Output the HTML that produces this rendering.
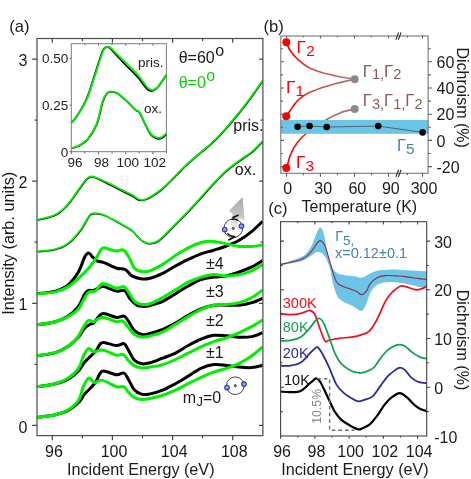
<!DOCTYPE html>
<html><head><meta charset="utf-8"><title>fig</title>
<style>html,body{margin:0;padding:0;background:#fff;}body{width:471px;height:479px;overflow:hidden;font-family:"Liberation Sans",sans-serif;}</style></head>
<body>
<svg width="471" height="479" viewBox="0 0 471 479" style="display:block;will-change:transform;font-family:'Liberation Sans',sans-serif;">
<rect width="471" height="479" fill="#fff"/>
<defs>
<clipPath id="ca"><rect x="36.4" y="38.5" width="226.5" height="397.1"/></clipPath>
<clipPath id="ci"><rect x="71.3" y="43.7" width="95.1" height="108"/></clipPath>
<clipPath id="cc"><rect x="280.6" y="221.7" width="146.1" height="214.3"/></clipPath>
<linearGradient id="gr2" gradientUnits="userSpaceOnUse" x1="286" y1="0" x2="355" y2="0"><stop offset="0" stop-color="#f00000"/><stop offset="0.35" stop-color="#d84a3c"/><stop offset="1" stop-color="#9a8078"/></linearGradient>
<linearGradient id="garrow" gradientUnits="userSpaceOnUse" x1="241.7" y1="197" x2="233" y2="229"><stop offset="0" stop-color="#a8a8a8"/><stop offset="0.5" stop-color="#c2c2c2"/><stop offset="0.8" stop-color="#dcdcdc"/><stop offset="1" stop-color="#f2f2f2" stop-opacity="0.7"/></linearGradient>
</defs>
<g clip-path="url(#ca)" fill="none" stroke-linejoin="round" stroke-linecap="butt">
<path d="M37.6 417.3C40.6 416.9 50.4 416.0 55.5 414.8C60.6 413.6 64.4 412.4 68.2 410.4C72.0 408.4 75.6 405.6 78.4 402.8C81.2 400.1 82.7 396.4 84.8 393.9C86.9 391.3 89.2 389.6 91.1 387.5C93.0 385.4 94.7 383.4 96.2 381.1C97.7 378.8 98.7 375.2 100.0 373.5C101.3 371.8 101.1 370.8 103.9 371.0C106.7 371.2 113.2 374.5 116.6 374.8C119.9 375.1 122.0 372.1 124.0 373.0C126.0 373.9 126.9 377.0 128.7 379.9C130.4 382.8 132.3 387.7 134.5 390.1C136.7 392.5 139.5 393.8 142.1 394.4C144.7 395.0 146.6 394.6 150.0 393.9C153.4 393.2 158.4 391.8 162.7 390.1C166.9 388.4 171.2 386.0 175.5 383.7C179.8 381.4 183.9 378.7 188.2 376.1C192.4 373.6 196.8 370.3 201.0 368.4C205.2 366.5 209.5 365.1 213.7 364.6C217.9 364.1 222.2 365.0 226.4 365.4C230.7 365.8 234.9 366.7 239.2 367.1C243.4 367.5 248.0 367.9 251.9 367.6C255.8 367.3 260.8 365.8 262.6 365.4" stroke="#000" stroke-width="3"/>
<path d="M37.6 417.3C40.6 416.9 50.4 416.1 55.5 414.8C60.6 413.5 64.4 412.1 68.2 409.7C72.0 407.3 75.9 404.2 78.4 400.3C81.0 396.4 81.8 389.9 83.5 386.2C85.2 382.5 86.8 378.7 88.6 378.1C90.4 377.5 91.9 382.0 94.2 382.4C96.5 382.8 98.9 379.7 102.6 380.4C106.3 381.1 113.0 385.7 116.6 386.8C120.2 387.9 122.0 385.8 124.0 386.8C126.0 387.8 126.9 390.8 128.7 392.6C130.4 394.4 132.3 396.6 134.5 397.7C136.7 398.8 139.5 399.4 142.1 399.5C144.7 399.6 146.6 399.2 150.0 398.5C153.4 397.8 158.4 396.6 162.7 395.2C166.9 393.8 171.2 392.0 175.5 390.1C179.8 388.2 183.9 385.8 188.2 383.7C192.4 381.6 196.8 379.2 201.0 377.3C205.2 375.4 209.5 373.7 213.7 372.2C217.9 370.7 222.2 369.9 226.4 368.4C230.7 366.9 234.9 365.4 239.2 363.3C243.4 361.2 248.0 358.4 251.9 355.7C255.8 352.9 260.8 348.3 262.6 346.8" stroke="#00f000" stroke-width="3"/>
<path d="M37.6 386.8C40.6 386.3 50.4 385.0 55.5 383.7C60.6 382.4 64.4 381.2 68.2 379.1C72.0 377.0 75.6 373.9 78.4 371.0C81.2 368.1 82.7 364.6 84.8 362.0C86.9 359.4 89.2 357.6 91.1 355.7C93.0 353.8 94.7 352.5 96.2 350.6C97.7 348.7 98.7 345.6 100.0 344.2C101.3 342.8 101.1 342.2 103.9 342.4C106.7 342.6 113.2 345.3 116.6 345.5C119.9 345.7 122.0 342.8 124.0 343.7C126.0 344.6 126.9 347.8 128.7 350.6C130.4 353.4 132.3 358.1 134.5 360.3C136.7 362.5 139.5 363.4 142.1 363.8C144.7 364.2 146.6 363.7 150.0 362.8C153.4 361.9 158.4 359.8 162.7 358.2C166.9 356.6 171.2 355.2 175.5 353.1C179.8 351.0 183.9 347.8 188.2 345.5C192.4 343.2 196.8 340.8 201.0 339.1C205.2 337.4 209.5 335.9 213.7 335.3C217.9 334.8 222.2 335.5 226.4 335.8C230.7 336.1 234.9 337.2 239.2 337.3C243.4 337.4 248.0 337.4 251.9 336.6C255.8 335.8 260.8 333.4 262.6 332.7" stroke="#000" stroke-width="3"/>
<path d="M37.6 386.8C40.6 386.3 50.4 385.1 55.5 383.7C60.6 382.2 64.4 380.7 68.2 378.1C72.0 375.6 75.9 372.1 78.4 368.4C81.0 364.7 81.8 359.0 83.5 355.7C85.2 352.4 86.9 349.1 88.6 348.5C90.3 347.9 91.4 351.5 93.7 351.8C96.0 352.1 98.8 349.5 102.6 350.1C106.4 350.7 113.2 354.5 116.6 355.2C120.0 355.9 121.2 353.5 123.2 354.4C125.2 355.3 126.8 358.9 128.7 360.8C130.6 362.7 132.3 364.7 134.5 365.9C136.7 367.1 139.5 367.7 142.1 367.9C144.7 368.1 146.6 367.7 150.0 367.1C153.4 366.6 158.4 365.9 162.7 364.6C166.9 363.3 171.2 361.4 175.5 359.5C179.8 357.6 183.9 355.2 188.2 353.1C192.4 351.0 196.8 348.7 201.0 346.8C205.2 344.9 209.5 343.2 213.7 341.7C217.9 340.2 222.2 339.3 226.4 337.8C230.7 336.3 234.9 334.6 239.2 332.7C243.4 330.8 248.0 328.5 251.9 326.4C255.8 324.3 260.8 321.1 262.6 320.0" stroke="#00f000" stroke-width="3"/>
<path d="M37.6 355.7C40.6 355.2 50.4 354.2 55.5 352.6C60.6 351.0 64.4 348.9 68.2 346.3C72.0 343.7 75.6 340.0 78.4 337.0C81.2 334.0 82.9 330.2 84.8 328.1C86.7 326.0 88.4 325.2 89.9 324.3C91.4 323.4 92.2 324.3 93.7 323.0C95.2 321.7 97.1 318.2 98.8 316.6C100.5 315.0 100.9 313.5 103.9 313.6C106.9 313.7 113.2 317.0 116.6 317.4C119.9 317.8 122.0 315.4 124.0 316.1C126.0 316.8 126.9 319.3 128.7 321.7C130.4 324.1 132.3 328.5 134.5 330.6C136.7 332.7 139.5 334.0 142.1 334.5C144.7 335.0 146.6 334.4 150.0 333.5C153.4 332.6 158.4 331.1 162.7 329.4C166.9 327.6 171.2 325.3 175.5 323.0C179.8 320.7 183.9 317.7 188.2 315.4C192.4 313.1 196.8 310.7 201.0 309.0C205.2 307.3 209.5 305.8 213.7 305.2C217.9 304.6 222.2 305.2 226.4 305.2C230.7 305.2 234.9 305.6 239.2 305.2C243.4 304.8 248.0 303.8 251.9 302.6C255.8 301.5 260.8 299.0 262.6 298.3" stroke="#000" stroke-width="3"/>
<path d="M37.6 355.7C40.6 355.2 51.2 353.6 55.5 352.6C59.8 351.6 59.7 351.7 63.1 349.5C66.5 347.3 72.5 343.4 75.9 339.6C79.3 335.8 81.4 330.0 83.5 326.8C85.6 323.6 86.9 321.2 88.6 320.4C90.3 319.5 92.0 322.0 93.7 321.7C95.4 321.4 97.1 319.4 98.8 318.7C100.5 318.0 100.9 316.9 103.9 317.4C106.9 317.9 113.5 321.1 116.6 321.7C119.7 322.3 120.7 319.9 122.7 321.0C124.7 322.1 126.7 325.9 128.7 328.1C130.7 330.4 132.3 333.0 134.5 334.5C136.7 336.0 139.5 336.8 142.1 337.0C144.7 337.2 146.6 336.9 150.0 336.0C153.4 335.1 158.4 333.8 162.7 331.9C166.9 329.9 171.2 326.9 175.5 324.3C179.8 321.8 183.9 319.1 188.2 316.6C192.4 314.1 196.8 311.4 201.0 309.5C205.2 307.6 209.5 306.1 213.7 305.2C217.9 304.3 222.2 304.8 226.4 304.4C230.7 304.0 234.9 303.8 239.2 302.6C243.4 301.5 248.0 299.6 251.9 297.5C255.8 295.4 260.8 291.2 262.6 289.9" stroke="#00f000" stroke-width="3"/>
<path d="M37.6 324.8C40.6 324.3 50.4 323.1 55.5 321.7C60.6 320.2 64.4 318.7 68.2 316.1C72.0 313.6 75.6 310.1 78.4 306.4C81.2 302.7 83.1 296.4 84.8 293.7C86.5 291.0 87.1 290.9 88.6 290.4C90.1 289.8 91.8 290.9 93.7 290.4C95.6 289.9 98.3 287.9 100.0 287.3C101.7 286.7 101.1 286.0 103.9 286.6C106.7 287.2 113.1 290.4 116.6 291.1C120.1 291.8 122.6 289.3 124.8 290.6C127.0 291.9 128.0 296.4 130.0 298.8C132.0 301.2 134.8 303.9 137.0 305.2C139.2 306.5 141.2 306.3 143.4 306.4C145.6 306.4 146.8 306.4 150.0 305.5C153.2 304.6 158.4 303.3 162.7 301.3C166.9 299.3 171.2 296.2 175.5 293.7C179.8 291.1 183.9 288.3 188.2 286.0C192.4 283.7 196.8 281.2 201.0 279.7C205.2 278.2 209.5 277.7 213.7 277.1C217.9 276.5 222.2 276.8 226.4 275.9C230.7 275.0 234.9 273.5 239.2 272.0C243.4 270.5 248.0 268.8 251.9 266.9C255.8 265.0 260.8 261.7 262.6 260.6" stroke="#000" stroke-width="3"/>
<path d="M37.6 324.8C40.6 324.3 50.4 323.1 55.5 321.7C60.6 320.3 64.4 318.7 68.2 316.6C72.0 314.5 75.6 312.2 78.4 309.0C81.2 305.8 83.0 300.4 84.8 297.5C86.6 294.6 87.4 293.0 89.1 291.9C90.8 290.8 93.2 292.2 95.0 291.1C96.8 290.0 98.5 286.8 100.0 285.5C101.5 284.2 101.1 283.1 103.9 283.5C106.7 283.9 113.2 287.6 116.6 288.1C119.9 288.6 122.0 285.9 124.0 286.6C126.0 287.3 126.9 289.9 128.7 292.4C130.4 294.8 132.3 299.3 134.5 301.3C136.7 303.3 139.5 304.0 142.1 304.4C144.7 304.8 146.6 304.8 150.0 303.7C153.4 302.6 158.4 299.8 162.7 297.5C166.9 295.2 171.2 292.4 175.5 289.9C179.8 287.3 183.9 284.3 188.2 282.2C192.4 280.1 196.8 278.4 201.0 277.1C205.2 275.8 209.5 274.8 213.7 274.6C217.9 274.4 222.2 275.9 226.4 275.9C230.7 275.9 234.9 275.5 239.2 274.6C243.4 273.8 248.0 272.5 251.9 270.8C255.8 269.1 260.8 265.5 262.6 264.4" stroke="#00f000" stroke-width="3"/>
<path d="M37.6 293.7C40.6 293.3 50.4 292.6 55.5 291.1C60.6 289.6 64.4 288.0 68.2 284.8C72.0 281.6 75.6 276.7 78.4 272.0C81.2 267.3 83.1 260.0 84.8 256.8C86.5 253.6 87.3 252.9 88.6 252.9C89.9 252.9 90.9 255.4 92.4 256.8C93.9 258.2 95.6 260.1 97.5 261.1C99.4 262.1 100.7 261.4 103.9 262.6C107.1 263.8 113.0 267.1 116.6 268.2C120.2 269.3 122.8 268.2 125.3 269.5C127.8 270.8 129.1 274.3 131.9 275.9C134.7 277.5 139.1 278.5 142.1 278.9C145.1 279.3 146.6 279.1 150.0 278.2C153.4 277.3 158.4 275.3 162.7 273.3C166.9 271.3 171.2 268.3 175.5 266.0C179.8 263.7 183.9 261.4 188.2 259.4C192.4 257.4 196.8 255.3 201.0 253.8C205.2 252.3 209.5 251.5 213.7 250.2C217.9 248.9 222.2 247.7 226.4 246.0C230.7 244.3 234.9 242.7 239.2 240.3C243.4 237.9 248.0 234.6 251.9 231.4C255.8 228.2 260.8 223.0 262.6 221.3" stroke="#000" stroke-width="3"/>
<path d="M37.6 293.7C40.6 293.4 50.4 293.1 55.5 291.9C60.6 290.7 64.4 288.9 68.2 286.6C72.0 284.4 75.0 281.5 78.4 278.4C81.8 275.3 85.6 271.6 88.6 268.2C91.6 264.8 94.1 261.2 96.2 258.0C98.3 254.8 99.9 250.8 101.3 249.1C102.7 247.4 103.0 247.7 104.4 247.8C105.9 247.9 108.0 248.9 110.0 249.5C112.0 250.1 114.4 251.0 116.6 251.1C118.8 251.2 121.2 248.9 123.2 249.9C125.2 250.9 126.8 253.8 128.7 256.8C130.6 259.9 132.3 265.8 134.5 268.2C136.7 270.6 139.5 271.1 142.1 271.5C144.7 271.9 146.6 272.0 150.0 270.8C153.4 269.6 158.4 266.9 162.7 264.4C166.9 261.8 171.2 258.3 175.5 255.5C179.8 252.7 183.9 250.0 188.2 247.8C192.4 245.6 196.8 243.6 201.0 242.5C205.2 241.4 209.5 241.2 213.7 241.4C217.9 241.6 222.2 243.1 226.4 243.9C230.7 244.7 234.9 246.0 239.2 246.4C243.4 246.8 248.0 246.6 251.9 246.4C255.8 246.2 260.8 245.2 262.6 245.0" stroke="#00f000" stroke-width="3"/>
<path d="M37.9 251.8C40.9 251.4 50.7 250.8 55.8 249.5C60.9 248.2 64.2 247.0 68.5 243.7C72.8 240.4 77.9 234.2 81.3 229.7C84.7 225.2 87.1 219.5 88.9 216.9C90.6 214.3 90.7 214.9 91.8 214.3C92.9 213.8 93.9 213.6 95.3 213.6C96.7 213.6 98.4 213.8 100.3 214.3C102.2 214.8 103.5 214.9 106.7 216.4C109.9 217.9 115.2 220.9 119.5 223.3C123.8 225.7 129.1 228.5 132.2 230.9C135.3 233.3 136.6 235.8 138.3 237.5C140.0 239.2 140.9 240.1 142.4 241.1C143.9 242.1 146.0 243.1 147.3 243.5C148.6 243.9 149.1 243.9 150.3 243.8C151.5 243.7 152.6 243.7 154.3 243.0C156.0 242.3 156.9 242.8 160.5 239.7C164.1 236.6 171.1 229.1 175.8 224.4C180.5 219.7 184.2 216.1 188.5 211.6C192.8 207.1 197.1 202.3 201.3 197.6C205.6 192.9 209.8 188.0 214.0 183.6C218.2 179.2 222.5 174.7 226.7 170.9C231.0 167.2 235.2 164.2 239.5 161.1C243.8 158.0 248.3 155.5 252.2 152.2C256.1 148.9 261.1 143.3 262.9 141.5" stroke="#000" stroke-width="1.6"/>
<path d="M37.6 251.3C40.6 250.9 50.4 250.3 55.5 249.0C60.6 247.7 64.0 246.5 68.2 243.2C72.5 239.9 77.6 233.7 81.0 229.2C84.4 224.7 86.8 219.0 88.6 216.4C90.3 213.8 90.4 214.4 91.5 213.8C92.6 213.2 93.6 213.1 95.0 213.1C96.4 213.1 98.1 213.3 100.0 213.8C101.9 214.3 103.2 214.4 106.4 215.9C109.6 217.4 115.0 220.4 119.2 222.8C123.5 225.2 128.8 228.0 131.9 230.4C135.0 232.8 136.3 235.3 138.0 237.0C139.7 238.7 140.6 239.6 142.1 240.6C143.6 241.6 145.7 242.6 147.0 243.0C148.3 243.4 148.8 243.4 150.0 243.3C151.2 243.2 152.3 243.2 154.0 242.5C155.7 241.8 156.6 242.3 160.2 239.2C163.8 236.1 170.8 228.6 175.5 223.9C180.2 219.2 183.9 215.6 188.2 211.1C192.4 206.6 196.8 201.8 201.0 197.1C205.2 192.4 209.5 187.5 213.7 183.1C217.9 178.7 222.2 174.2 226.4 170.4C230.7 166.7 234.9 163.7 239.2 160.6C243.4 157.5 248.0 155.0 251.9 151.7C255.8 148.4 260.8 142.8 262.6 141.0" stroke="#00f000" stroke-width="1.7"/>
<path d="M37.9 220.2C40.9 219.3 50.7 217.8 55.8 215.1C60.9 212.4 64.2 209.0 68.5 204.2C72.8 199.4 78.2 190.6 81.3 186.4C84.4 182.2 85.6 180.6 87.3 179.0C89.0 177.4 89.9 177.1 91.4 176.9C92.9 176.7 93.8 176.9 96.3 178.0C98.8 179.1 102.8 181.4 106.7 183.3C110.6 185.2 115.2 187.6 119.5 189.7C123.8 191.8 129.2 194.4 132.2 196.1C135.3 197.8 136.2 199.1 137.8 199.8C139.4 200.5 140.3 200.5 141.6 200.4C142.9 200.3 144.4 200.0 145.8 199.5C147.2 199.0 147.4 199.4 150.3 197.6C153.2 195.8 158.8 192.3 163.0 188.7C167.2 185.1 171.6 180.2 175.8 176.0C180.1 171.8 184.2 167.4 188.5 163.5C192.8 159.6 197.1 156.2 201.3 152.5C205.6 148.8 209.8 145.6 214.0 141.5C218.2 137.4 222.5 132.8 226.7 128.0C231.0 123.2 235.2 118.0 239.5 112.7C243.8 107.4 248.3 101.5 252.2 96.2C256.1 90.9 261.1 83.5 262.9 80.9" stroke="#000" stroke-width="1.6"/>
<path d="M37.6 219.7C40.6 218.8 50.4 217.3 55.5 214.6C60.6 211.9 64.0 208.5 68.2 203.7C72.5 198.9 77.9 190.1 81.0 185.9C84.1 181.7 85.3 180.1 87.0 178.5C88.7 176.9 89.6 176.6 91.1 176.4C92.6 176.2 93.5 176.6 96.0 177.5C98.5 178.4 102.5 180.2 106.4 182.0C110.3 183.8 115.0 186.3 119.2 188.4C123.5 190.5 128.8 193.1 131.9 194.8C135.0 196.5 135.9 197.7 137.5 198.5C139.1 199.3 140.0 199.8 141.3 199.9C142.6 200.0 144.1 199.5 145.5 199.0C146.9 198.5 147.1 198.9 150.0 197.1C152.9 195.3 158.4 191.8 162.7 188.2C166.9 184.6 171.2 179.7 175.5 175.5C179.8 171.3 183.9 166.9 188.2 163.0C192.4 159.1 196.8 155.7 201.0 152.0C205.2 148.3 209.5 145.1 213.7 141.0C217.9 136.9 222.2 132.3 226.4 127.5C230.7 122.7 234.9 117.5 239.2 112.2C243.4 106.9 248.0 101.0 251.9 95.7C255.8 90.4 260.8 83.0 262.6 80.4" stroke="#00f000" stroke-width="1.7"/>
</g>
<rect x="71.3" y="43.7" width="95.1" height="108" fill="#fff" stroke="#7a7a7a" stroke-width="1"/>
<g clip-path="url(#ci)" fill="none" stroke-linejoin="round">
<path d="M71.8 148.3C72.9 147.9 76.0 147.5 78.6 146.0C81.2 144.5 84.6 143.1 87.6 139.5C90.6 135.9 94.3 130.5 96.8 124.2C99.3 117.9 101.0 107.1 102.7 101.9C104.4 96.8 105.7 95.0 107.1 93.3C108.5 91.6 109.6 91.8 111.3 91.8C113.0 91.8 114.8 91.8 117.3 93.3C119.8 94.8 123.2 98.0 126.2 100.7C129.2 103.4 132.9 107.6 135.1 109.6C137.3 111.6 137.9 110.3 139.6 112.8C141.3 115.3 143.5 121.0 145.5 124.8C147.5 128.6 149.5 133.1 151.5 135.4C153.5 137.7 155.7 138.2 157.4 138.6C159.1 139.0 160.4 138.7 161.9 138.0C163.4 137.3 165.6 134.8 166.3 134.2" stroke="#000" stroke-width="1.8"/>
<path d="M71.8 148.0C72.9 147.6 76.0 147.1 78.6 145.6C81.2 144.1 84.6 142.6 87.6 139.0C90.6 135.4 94.0 130.4 96.5 124.2C99.0 118.0 100.7 107.1 102.4 101.9C104.1 96.7 105.4 94.7 106.9 93.0C108.4 91.3 109.6 91.5 111.3 91.5C113.0 91.5 114.8 91.5 117.3 93.0C119.8 94.5 123.2 97.7 126.2 100.4C129.2 103.1 132.9 107.3 135.1 109.3C137.3 111.3 137.9 109.8 139.6 112.3C141.3 114.8 143.5 120.5 145.5 124.2C147.5 127.9 149.5 132.4 151.5 134.6C153.5 136.8 155.7 137.2 157.4 137.6C159.1 138.0 160.4 137.8 161.9 137.0C163.4 136.2 165.6 133.8 166.3 133.1" stroke="#00f000" stroke-width="1.8"/>
<path d="M71.8 122.7C72.9 121.2 75.8 118.0 78.4 113.8C81.0 109.6 84.3 104.6 87.2 97.4C90.1 90.2 93.5 78.1 96.0 70.7C98.5 63.3 100.5 56.5 101.9 52.8C103.3 49.0 103.7 49.2 104.6 48.2C105.5 47.2 106.5 47.0 107.5 47.0C108.5 47.0 109.2 47.3 110.3 48.2C111.4 49.1 111.3 49.6 113.9 52.4C116.5 55.2 121.8 60.9 125.7 65.0C129.7 69.1 134.1 73.1 137.6 77.0C141.1 80.9 144.3 86.2 146.5 88.5C148.7 90.8 149.6 90.8 151.0 91.0C152.4 91.2 153.7 90.5 155.0 89.6C156.3 88.7 157.0 88.1 158.9 85.7C160.8 83.3 165.1 76.9 166.3 75.1" stroke="#000" stroke-width="1.8"/>
<path d="M71.8 122.7C72.9 121.2 76.0 118.0 78.6 113.8C81.2 109.6 84.6 104.6 87.6 97.4C90.6 90.2 94.0 78.1 96.5 70.7C99.0 63.3 101.0 56.5 102.4 52.8C103.8 49.0 104.1 49.2 105.0 48.2C105.9 47.2 106.9 47.0 107.8 46.9C108.7 46.8 109.4 47.1 110.5 47.8C111.6 48.5 111.7 48.7 114.3 51.3C116.9 53.9 122.2 59.2 126.2 63.2C130.2 67.2 134.6 71.1 138.1 75.1C141.6 79.1 144.8 84.5 147.0 87.0C149.2 89.5 150.2 89.7 151.5 90.0C152.8 90.3 153.8 89.8 155.0 89.0C156.2 88.2 157.0 87.8 158.9 85.5C160.8 83.2 165.1 76.8 166.3 75.1" stroke="#00f000" stroke-width="1.8"/>
</g>
<path d="M71.3 151.7v2.6M84.9 151.7v1.8M84.9 43.7v1.5M98.5 151.7v2.6M98.5 43.7v2.0M112.1 151.7v1.8M112.1 43.7v1.5M125.7 151.7v2.6M125.7 43.7v2.0M139.3 151.7v1.8M139.3 43.7v1.5M152.9 151.7v2.6M152.9 43.7v2.0M166.5 151.7v1.8M71.3 58.3h-1.8M71.3 105.0h-1.8M71.3 151.7h-1.8" stroke="#6e6e6e" stroke-width="1" fill="none"/>
<g font-size="13.5" fill="#222">
<text x="74.9" y="167" text-anchor="middle">96</text>
<text x="101.5" y="167" text-anchor="middle">98</text>
<text x="127.8" y="167" text-anchor="middle">100</text>
<text x="154.8" y="167" text-anchor="middle">102</text>
<text x="68.3" y="63.1" text-anchor="end">0.50</text>
<text x="68.3" y="110.1" text-anchor="end">0.25</text>
<text x="68.3" y="156.6" text-anchor="end">0</text>
<text x="138" y="67.1">pris.</text>
<text x="144" y="112.9">ox.</text>
</g>
<rect x="37" y="38.5" width="225.9" height="397.1" fill="none" stroke="#505050" stroke-width="1.25"/>
<path d="M52.3 435.6v4.6M52.3 38.5v4.3M82.4 435.6v2.6M82.4 38.5v2.4M112.4 435.6v4.6M112.4 38.5v4.3M142.5 435.6v2.6M142.5 38.5v2.4M172.6 435.6v4.6M172.6 38.5v4.3M202.6 435.6v2.6M202.6 38.5v2.4M232.7 435.6v4.6M232.7 38.5v4.3M37 425.4h-4.8M262.9 425.4h-3.8M37 364.3h-2.4M262.9 364.3h-2.4M37 303.3h-4.8M262.9 303.3h-3.8M37 242.2h-2.4M262.9 242.2h-2.4M37 181.2h-4.8M262.9 181.2h-3.8M37 120.1h-2.4M262.9 120.1h-2.4M37 59.1h-4.8M262.9 59.1h-3.8" stroke="#444" stroke-width="1.2" fill="none"/>
<g font-size="16" fill="#1a1a1a">
<text x="53.9" y="456.8" text-anchor="middle">96</text>
<text x="114.0" y="456.8" text-anchor="middle">100</text>
<text x="174.2" y="456.8" text-anchor="middle">104</text>
<text x="234.3" y="456.8" text-anchor="middle">108</text>
<text x="27.4" y="432.5" text-anchor="end">0</text>
<text x="27.4" y="310.4" text-anchor="end">1</text>
<text x="27.4" y="188.3" text-anchor="end">2</text>
<text x="27.4" y="66.2" text-anchor="end">3</text>
<text x="67" y="474.5" font-size="16.2">Incident Energy (eV)</text>
<text transform="translate(14.1 243.2) rotate(-90)" text-anchor="middle" font-size="16.3">Intensity (arb. units)</text>
<text x="9.3" y="31.6" font-size="16.6">(a)</text>
<text x="233.3" y="131.2">pris.</text>
<text x="234.8" y="175.2">ox.</text>
<text x="206" y="269.1">±4</text>
<text x="206" y="296.8">±3</text>
<text x="206" y="325.5">±2</text>
<text x="206" y="357.7">±1</text>
<text x="182.8" y="402.6">m<tspan font-size="13.6" dy="3.2">J</tspan><tspan dy="-3.2">=0</tspan></text>
<text x="178.7" y="63">θ=60<tspan dy="-7.2" dx="0.5">o</tspan></text>
<text x="178.7" y="87.8" fill="#10cc10">θ=0<tspan dy="-7.2" dx="0.5">o</tspan></text>
</g>
<g>
<circle cx="235.3" cy="385.7" r="8.8" fill="#fff" stroke="#222" stroke-width="0.85"/>
<circle cx="235.3" cy="385.7" r="1.1" fill="#aaa" stroke="#222" stroke-width="0.85"/>
<circle cx="227.0" cy="387.5" r="2.3" fill="#9ca0d2" stroke="#2a3cc4" stroke-width="1.15"/>
<circle cx="244.0" cy="384.1" r="2.3" fill="#9ca0d2" stroke="#2a3cc4" stroke-width="1.15"/>
</g>
<g>
<path d="M242.6 196.9 L229 210.8 L232.6 214 L230.4 226.5 L237 228.5 L239.3 218 L244.6 220.5 Z" fill="url(#garrow)"/>
<circle cx="233.3" cy="228.2" r="9.3" fill="none" stroke="#222" stroke-width="0.85"/>
<path d="M232.4 217.8 L238.6 215" stroke="#111" stroke-width="1.7" fill="none"/>
<path d="M231.5 219.3 Q234.8 218.6 237.8 220.4" stroke="#111" stroke-width="1.3" fill="none"/>
<path d="M228.3 240.2 L235.2 236.4" stroke="#111" stroke-width="1.7" fill="none"/>
<path d="M227.4 233.4 Q230.5 236.6 234.6 236.5" stroke="#111" stroke-width="1.3" fill="none"/>
<circle cx="233.3" cy="228.4" r="1.1" fill="#aaa" stroke="#222" stroke-width="0.85"/>
<circle cx="224.7" cy="229.5" r="2.3" fill="#9ca0d2" stroke="#2a3cc4" stroke-width="1.15"/>
<circle cx="241.5" cy="226.1" r="2.3" fill="#9ca0d2" stroke="#2a3cc4" stroke-width="1.15"/>
</g>
<g fill="none" stroke-width="1.7" stroke="url(#gr2)">
<path d="M286.3 42.2C287.0 43.7 288.5 48.1 290.5 51.0C292.5 53.9 295.1 56.9 298.1 59.6C301.1 62.3 304.5 65.1 308.3 67.2C312.1 69.3 316.3 70.8 321.0 72.3C325.7 73.8 330.7 74.8 336.3 76.0C341.9 77.2 351.5 78.8 354.5 79.3"/>
<path d="M286.3 116.2C287.0 115.2 288.5 112.7 290.5 110.0C292.5 107.3 295.1 103.0 298.1 100.2C301.1 97.4 304.5 95.0 308.3 93.0C312.1 91.0 316.3 89.6 321.0 88.0C325.7 86.4 330.7 85.0 336.3 83.5C341.9 82.0 351.5 80.0 354.5 79.3"/>
<path d="M286.7 168.3C287.3 166.1 288.8 159.0 290.5 154.8C292.2 150.6 294.1 146.9 296.8 143.3C299.5 139.7 301.7 137.0 306.6 133.1C311.5 129.2 320.4 123.3 326.0 119.9C331.6 116.5 335.7 114.5 340.5 112.7C345.3 110.9 352.3 109.5 354.7 108.9"/>
</g>
<rect x="280.8" y="120" width="147.3" height="13.8" fill="#6cc5e6"/>
<path d="M297.6 126.7L309.6 126L326.7 127L378.2 126.1L422.6 132.4" fill="none" stroke="#333" stroke-width="0.65"/>
<circle cx="297.6" cy="126.7" r="3.3" fill="#000"/>
<circle cx="309.6" cy="126.0" r="3.3" fill="#000"/>
<circle cx="326.7" cy="127.0" r="3.3" fill="#000"/>
<circle cx="378.2" cy="126.1" r="3.3" fill="#000"/>
<circle cx="422.6" cy="132.4" r="3.3" fill="#000"/>
<circle cx="286.3" cy="42.2" r="4" fill="#fa0008"/>
<circle cx="286.3" cy="116.2" r="4" fill="#fa0008"/>
<circle cx="286.3" cy="168.0" r="4" fill="#fa0008"/>
<circle cx="354.7" cy="79.3" r="4" fill="#8a8a8a"/>
<circle cx="354.7" cy="108.9" r="4" fill="#8a8a8a"/>
<rect x="280.8" y="36" width="147.3" height="137.3" fill="none" stroke="#777" stroke-width="1.1"/>
<path d="M280.8 166.6h3.2M428.1 166.6h3.9M280.8 153.5h2.0M428.1 153.5h2.7M280.8 140.4h3.2M428.1 140.4h3.9M280.8 127.3h2.0M428.1 127.3h2.7M280.8 114.2h3.2M428.1 114.2h3.9M280.8 101.1h2.0M428.1 101.1h2.7M280.8 88.0h3.2M428.1 88.0h3.9M280.8 74.9h2.0M428.1 74.9h2.7M280.8 61.8h3.2M428.1 61.8h3.9M280.8 48.7h2.0M428.1 48.7h2.7M286.6 173.3v3.4M286.6 36v2.6M303.5 173.3v2.0M303.5 36v1.2M320.4 173.3v3.4M320.4 36v2.6M337.4 173.3v2.0M337.4 36v1.2M354.5 173.3v3.4M354.5 36v2.6M371.4 173.3v2.0M371.4 36v1.2M388.5 173.3v3.4M388.5 36v2.6M407.4 173.3v1.8M407.4 36v1.4M422.5 173.3v3.4M422.5 36v2.6" stroke="#5a5a5a" stroke-width="1.1" fill="none"/>
<path d="M395.9 39.6l2.7 -7.2M398.4 39.6l2.7 -7.2" stroke="#2a2a2a" stroke-width="1.15" fill="none"/>
<path d="M395.9 176.9l2.7 -7.2M398.4 176.9l2.7 -7.2" stroke="#2a2a2a" stroke-width="1.15" fill="none"/>
<g font-size="16" fill="#1a1a1a">
<text x="287.6" y="193.8" text-anchor="middle">0</text>
<text x="323.2" y="193.8" text-anchor="middle">30</text>
<text x="357.3" y="193.8" text-anchor="middle">60</text>
<text x="390.8" y="193.8" text-anchor="middle">90</text>
<text x="424.0" y="193.8" text-anchor="middle">300</text>
<text x="436.5" y="68.0">60</text>
<text x="436.5" y="94.2">40</text>
<text x="436.5" y="120.4">20</text>
<text x="436.5" y="146.6">0</text>
<text x="436.5" y="172.8">-20</text>
<text x="301.6" y="211.5">Temperature (K)</text>
<text transform="translate(457.2 97.6) rotate(90)" text-anchor="middle">Dichroism (%)</text>
<text x="263.4" y="31.6" font-size="16.6">(b)</text>
<text x="268.2" y="213.8" font-size="16.6">(c)</text>
</g>
<text x="296.6" y="52.9" fill="#fa0008" font-size="17.3">Γ<tspan font-size="15.3" dy="2.7">2</tspan><tspan dy="-2.7" font-size="1">​</tspan></text>
<text x="286.0" y="93.2" fill="#fa0008" font-size="17.3">Γ<tspan font-size="15.3" dy="2.7">1</tspan><tspan dy="-2.7" font-size="1">​</tspan></text>
<text x="296.0" y="167.9" fill="#fa0008" font-size="17.3">Γ<tspan font-size="15.3" dy="2.7">3</tspan><tspan dy="-2.7" font-size="1">​</tspan></text>
<text x="362.8" y="76.6" fill="#8a5a5a" font-size="16.5">Γ<tspan font-size="14.6" dy="2.7">1,</tspan><tspan dy="-2.7" font-size="1">​</tspan>Γ<tspan font-size="14.6" dy="2.7">2</tspan><tspan dy="-2.7" font-size="1">​</tspan></text>
<text x="362.8" y="106.2" fill="#8a5a5a" font-size="16.5">Γ<tspan font-size="14.6" dy="2.7">3,</tspan><tspan dy="-2.7" font-size="1">​</tspan>Γ<tspan font-size="14.6" dy="2.7">1,</tspan><tspan dy="-2.7" font-size="1">​</tspan>Γ<tspan font-size="14.6" dy="2.7">2</tspan><tspan dy="-2.7" font-size="1">​</tspan></text>
<text x="397.0" y="151.2" fill="#4a84a4" font-size="16.4">Γ<tspan font-size="15.3" dy="2.7">5</tspan><tspan dy="-2.7" font-size="1">​</tspan></text>
<g clip-path="url(#cc)" fill="none" stroke-linejoin="round">
<path d="M280.8 264.0C282.4 263.5 286.8 262.3 290.5 261.0C294.2 259.7 299.8 258.3 303.2 256.0C306.6 253.7 308.6 251.0 310.9 247.0C313.2 243.0 315.6 235.1 317.2 231.8C318.8 228.5 319.2 227.2 320.3 227.4C321.4 227.6 322.4 228.9 323.6 233.0C324.8 237.1 326.1 246.8 327.4 252.1C328.7 257.4 329.7 261.5 331.2 264.9C332.7 268.3 334.2 270.8 336.3 272.5C338.4 274.2 341.0 274.4 344.0 275.0C347.0 275.6 351.2 275.9 354.2 276.3C357.2 276.7 359.2 278.0 361.8 277.6C364.4 277.2 366.9 275.0 369.5 273.8C372.1 272.6 374.6 271.3 377.1 270.7C379.6 270.1 381.7 270.2 384.7 270.0C387.7 269.8 390.9 269.5 395.1 269.6C399.3 269.7 404.7 270.3 410.1 270.6C415.5 270.9 424.7 271.3 427.6 271.4 L427.6 288.2C426.4 288.0 423.0 287.8 420.1 287.2C417.2 286.6 414.3 285.5 410.1 284.7C405.9 283.9 399.7 282.5 395.1 282.2C390.5 281.9 386.0 282.0 382.6 282.7C379.2 283.4 377.1 284.7 375.0 286.4C372.9 288.1 371.9 289.8 370.3 293.0C368.7 296.2 367.1 302.7 365.6 305.6C364.2 308.6 362.9 310.1 361.6 310.7C360.3 311.3 359.7 310.4 358.0 309.5C356.3 308.6 354.4 307.1 351.6 305.6C348.8 304.1 343.9 302.4 341.4 300.5C338.8 298.6 337.8 297.4 336.3 294.2C334.8 291.0 333.6 285.6 332.5 281.4C331.4 277.1 331.1 272.5 330.0 268.7C328.9 264.9 327.4 261.1 326.1 258.5C324.8 255.9 323.8 254.5 322.3 253.4C320.8 252.3 319.1 251.7 317.2 252.1C315.3 252.5 313.2 254.6 310.9 256.0C308.6 257.4 306.6 259.2 303.2 260.5C299.8 261.8 294.2 262.9 290.5 263.6C286.8 264.4 282.4 264.8 280.8 265.0 Z" fill="#6cc5e6" stroke="none"/>
<path d="M280.8 264.4C282.4 264.0 286.8 263.3 290.5 262.3C294.2 261.3 299.8 260.2 303.2 258.5C306.6 256.8 308.6 254.7 310.9 252.1C313.2 249.5 315.6 245.1 317.2 243.2C318.8 241.3 319.2 240.3 320.5 240.7C321.8 241.1 323.3 242.2 324.9 245.8C326.5 249.4 328.3 256.8 330.0 262.3C331.7 267.8 333.6 275.2 335.1 278.9C336.6 282.6 336.6 282.9 338.9 284.5C341.2 286.1 346.1 287.4 349.1 288.6C352.1 289.8 354.6 290.6 356.7 291.6C358.8 292.6 360.1 294.9 361.8 294.7C363.5 294.5 365.5 292.2 366.9 290.4C368.3 288.6 368.2 286.0 370.0 283.9C371.8 281.8 375.0 279.0 377.5 277.6C380.0 276.2 382.2 275.9 385.1 275.6C388.0 275.3 391.8 275.7 395.1 275.9C398.4 276.1 401.4 276.2 405.1 276.6C408.9 277.0 413.9 277.9 417.6 278.4C421.4 278.9 425.9 279.4 427.6 279.6" stroke="#8a2a4a" stroke-width="1.1"/>
<path d="M280.8 313.7C282.4 313.9 287.2 314.8 290.5 314.7C293.8 314.6 297.5 314.1 300.7 313.4C303.9 312.7 307.3 310.3 309.6 310.4C311.9 310.5 313.0 311.2 314.7 314.2C316.4 317.2 318.1 323.7 319.8 328.2C321.5 332.7 323.4 339.0 324.9 341.0C326.4 343.0 326.4 340.8 328.7 340.4C331.0 340.0 335.1 338.9 338.9 338.4C342.7 337.8 347.8 337.7 351.6 337.1C355.4 336.5 358.8 335.7 361.8 334.6C364.8 333.6 366.9 333.4 369.5 330.8C372.1 328.2 374.6 324.0 377.1 319.3C379.6 314.6 382.6 306.8 384.7 302.7C386.8 298.6 388.3 296.7 390.0 294.5C391.7 292.3 393.2 291.1 395.1 289.7C397.0 288.3 399.2 286.3 401.3 285.9C403.4 285.5 405.3 286.6 407.6 287.2C409.9 287.8 412.8 289.4 415.1 289.7C417.4 290.0 419.3 289.6 421.4 288.9C423.5 288.2 426.6 286.2 427.6 285.7" stroke="#f01020" stroke-width="1.75"/>
<path d="M280.8 341.0C282.4 340.9 287.2 341.0 290.5 340.4C293.8 339.8 297.5 339.1 300.7 337.1C303.9 335.1 307.1 331.0 309.6 328.2C312.2 325.4 314.3 321.7 316.0 320.1C317.7 318.5 318.5 318.0 319.8 318.5C321.1 319.0 322.1 320.2 323.6 323.1C325.1 326.0 326.8 330.8 328.7 335.9C330.6 341.0 333.0 349.0 335.1 353.7C337.2 358.4 338.6 361.0 341.4 363.9C344.1 366.8 348.6 369.5 351.6 371.0C354.6 372.5 357.1 372.6 359.3 372.8C361.5 373.0 362.6 373.0 365.0 372.1C367.4 371.2 371.3 369.8 373.8 367.6C376.3 365.4 377.8 361.8 380.1 358.9C382.4 356.0 385.1 352.3 387.6 350.1C390.1 347.9 393.0 346.5 395.1 345.6C397.2 344.7 398.4 344.5 400.1 344.6C401.8 344.7 403.0 345.0 405.1 346.3C407.2 347.6 410.1 350.8 412.6 352.6C415.1 354.4 417.6 356.1 420.1 357.1C422.6 358.2 426.4 358.6 427.6 358.9" stroke="#12a050" stroke-width="1.75"/>
<path d="M280.8 365.7C282.4 365.7 287.2 366.2 290.5 365.7C293.8 365.2 297.5 364.6 300.7 362.6C303.9 360.6 307.3 356.0 309.6 353.7C311.9 351.4 313.4 349.7 314.7 348.6C316.0 347.5 316.4 346.5 317.7 347.3C319.0 348.1 320.5 350.5 322.3 353.7C324.1 356.9 326.4 361.3 328.7 366.4C331.0 371.5 333.8 379.8 336.3 384.3C338.9 388.8 341.4 390.9 344.0 393.2C346.6 395.5 349.3 396.9 351.6 398.3C353.9 399.7 355.8 401.2 358.0 401.4C360.2 401.6 362.6 400.5 365.0 399.7C367.4 398.9 370.0 398.6 372.5 396.4C375.0 394.2 377.6 389.7 380.1 386.4C382.6 383.1 385.1 379.1 387.6 376.4C390.1 373.7 393.0 371.6 395.1 370.1C397.2 368.6 398.4 367.6 400.1 367.6C401.8 367.6 403.2 368.4 405.1 370.1C407.0 371.8 409.1 375.7 411.4 377.7C413.7 379.7 416.2 381.3 418.9 382.2C421.6 383.1 426.2 383.0 427.6 383.2" stroke="#28289a" stroke-width="1.75"/>
<path d="M280.8 391.6C282.4 391.7 287.2 392.3 290.5 392.2C293.8 392.1 297.6 392.3 300.7 391.0C303.8 389.7 306.6 386.1 308.8 384.2C311.0 382.3 312.6 380.8 313.9 379.8C315.2 378.9 315.6 378.1 316.7 378.5C317.8 378.9 318.9 379.8 320.3 382.0C321.7 384.2 323.6 388.5 325.2 391.8C326.8 395.1 328.4 398.6 330.0 402.0C331.6 405.4 333.2 409.2 335.1 412.2C337.0 415.2 339.1 417.8 341.4 419.9C343.7 422.0 346.3 423.4 349.1 425.0C351.9 426.6 355.8 428.8 358.0 429.3C360.2 429.9 360.4 429.1 362.4 428.3C364.4 427.5 367.3 426.4 369.8 424.3C372.3 422.2 374.7 419.0 377.2 415.7C379.7 412.4 382.2 407.7 384.6 404.6C387.1 401.5 389.4 399.1 391.9 397.2C394.4 395.3 397.3 393.1 399.8 393.1C402.3 393.1 404.3 395.3 406.7 397.2C409.1 399.1 411.8 402.6 414.1 404.6C416.4 406.6 418.1 408.0 420.3 409.1C422.6 410.2 426.4 410.9 427.6 411.3" stroke="#000" stroke-width="2.2"/>
</g>
<path d="M317.2 378.8H329.6V430.2H354.5" fill="none" stroke="#6e6e6e" stroke-width="1.4" stroke-dasharray="3.6 3"/>
<rect x="280.6" y="221.7" width="146.1" height="214.3" fill="none" stroke="#3c3c3c" stroke-width="1.05"/>
<path d="M280.6 436v2.8M297.7 436v1.6M297.7 221.7v1.6M314.9 436v2.8M314.9 221.7v2.8M332.0 436v1.6M332.0 221.7v1.6M349.1 436v2.8M349.1 221.7v2.8M366.2 436v1.6M366.2 221.7v1.6M383.4 436v2.8M383.4 221.7v2.8M400.5 436v1.6M400.5 221.7v1.6M417.6 436v2.8M417.6 221.7v2.8M280.6 411.6h2.0M426.7 411.6h2.0M280.6 387.2h3.4M426.7 387.2h3.4M280.6 362.8h2.0M426.7 362.8h2.0M280.6 338.5h3.4M426.7 338.5h3.4M280.6 314.1h2.0M426.7 314.1h2.0M280.6 289.8h3.4M426.7 289.8h3.4M280.6 265.4h2.0M426.7 265.4h2.0M280.6 241.1h3.4M426.7 241.1h3.4" stroke="#3c3c3c" stroke-width="1.05" fill="none"/>
<g font-size="16" fill="#1a1a1a">
<text x="282.1" y="456.7" text-anchor="middle">96</text>
<text x="316.4" y="456.7" text-anchor="middle">98</text>
<text x="350.6" y="456.7" text-anchor="middle">100</text>
<text x="384.9" y="456.7" text-anchor="middle">102</text>
<text x="419.1" y="456.7" text-anchor="middle">104</text>
<text x="434.2" y="247.6">30</text>
<text x="434.2" y="296.3">20</text>
<text x="434.2" y="345.0">10</text>
<text x="434.2" y="393.7">0</text>
<text x="434.2" y="443.2">-10</text>
<text x="281.2" y="474.5" font-size="16.2">Incident Energy (eV)</text>
<text transform="translate(457.2 340) rotate(90)" text-anchor="middle">Dichroism (%)</text>
</g>
<g font-size="14.5">
<text x="282.8" y="307.5" fill="#f01020">300K</text>
<text x="282.8" y="331.7" fill="#12a050">80K</text>
<text x="282.8" y="357.8" fill="#28289a">20K</text>
<text x="284" y="385" fill="#111">10K</text>
<text x="335" y="257.7" fill="#4a84a4">x=0.12±0.1</text>
</g>
<text x="335.2" y="241.3" fill="#4a84a4" font-size="14.2">Γ<tspan font-size="13.5" dy="3.3">5,</tspan><tspan dy="-3.3" font-size="1">​</tspan></text>
<text transform="translate(320.6 406.3) rotate(-90)" text-anchor="middle" font-size="12.3" fill="#858585">10.5%</text>
</svg>
</body></html>
